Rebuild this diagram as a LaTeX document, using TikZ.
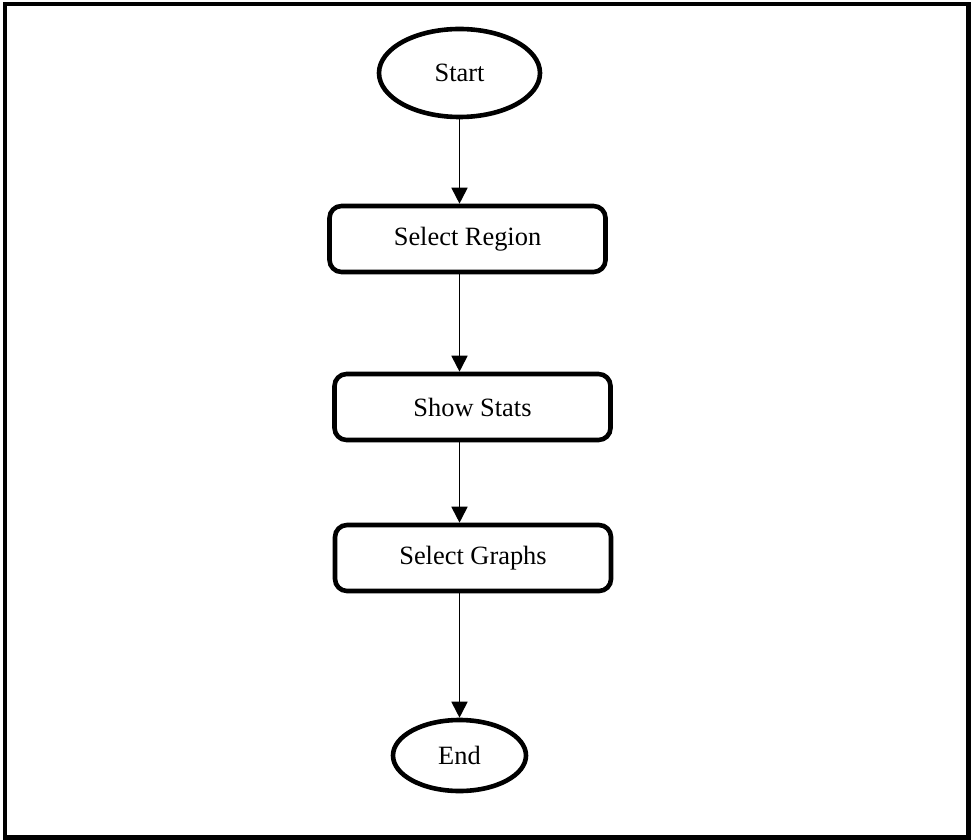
\documentclass[tikz,border=0pt]{standalone}
\usepackage{fontspec}
\setmainfont{Liberation Serif}
\usetikzlibrary{shapes.geometric, arrows.meta, positioning}

\begin{document}
\begin{tikzpicture}
		[x=0.5pt, y=-0.5pt,
		font=\fontsize{13.2}{16}\selectfont,
		b/.style = {draw=black, rectangle, rounded corners=6pt, line width=2.3pt, minimum width=138pt, minimum height=33pt, align=center},
		e/.style = {draw=black, ellipse, line width=2.3pt, inner sep=0pt},
		a/.style = {line width=0.9pt, -{Triangle[length=8pt, width=8pt]}}]
		
		\useasboundingbox (0,0) rectangle (972,839);
		\draw[line width=2.2pt] (5,4) rectangle (968.5,837.5);
		
		\node[e, minimum width=80.5pt, minimum height=44pt] (start) at (459.5,73) {Start};
		\foreach \x/\y/\alph/\name in {
			467.5/239/region/{Select Region},
			472.5/407/stats/{Show Stats},
			473/558/graphs/{Select Graphs}}
		{
			\node[b] (\alph) at (\x,\y) {\name};
		}
		\node[e, minimum width=66.5pt, minimum height=35.5pt] (end) at (459.5,755.5) {End};
		
		\draw[a] (start) -- (start |- region.north);
		\draw[a] (start |- region.south) -- (start |- stats.north);
		\draw[a] (start |- stats.south) -- (start |- graphs.north);
		\draw[a] (start |- graphs.south) -- (end);
		
	\end{tikzpicture}
\end{document}
